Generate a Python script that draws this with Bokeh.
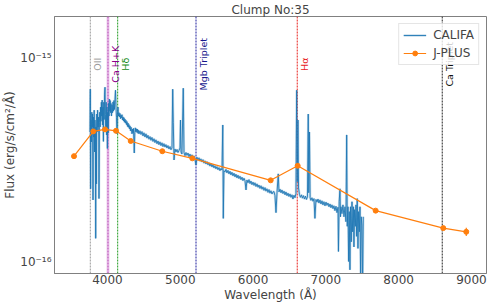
import math
from bokeh.plotting import figure
from bokeh.models import (ColumnDataSource, Range1d, FixedTicker, CustomJSTickFormatter,
                          Legend, LegendItem)
from bokeh.core.properties import value
from bokeh.embed import file_html
from bokeh.resources import INLINE

FONT = "DejaVu Sans"
SCALE = 1e-16  # flux values below are in units of 1e-16 erg/s/cm2/A

# ---- CALIFA spectrum (wavelength [A], flux [1e-16]) ----
califa = [
    (3760, 4.34), (3764, 7.05), (3768, 2.28), (3773, 4.97), (3779, 3.88), (3784, 5.43), (3790, 4.59),
    (3795, 5.32), (3801, 2.01), (3806, 5.14), (3812, 4.10), (3817, 5.56), (3823, 3.46), (3828, 4.97),
    (3834, 4.44), (3838, 1.30), (3842, 4.59), (3847, 2.41), (3853, 5.32), (3858, 4.34), (3864, 5.56),
    (3870, 4.59), (3875, 5.14), (3881, 4.10), (3883, 2.04), (3889, 4.85), (3894, 5.43),
    (3900, 4.60), (3905, 5.75), (3911, 4.90), (3916, 6.08), (3922, 5.20), (3927, 6.23), (3933, 4.70),
    (3938, 5.75), (3944, 3.90), (3949, 6.08), (3955, 5.00), (3960, 6.67), (3966, 7.21), (3971, 5.30),
    (3977, 4.50), (3982, 6.08), (3988, 4.20), (3993, 5.75), (3999, 3.60), (4004, 5.43), (4010, 4.30),
    (4015, 6.00), (4021, 5.20), (4026, 6.30), (4032, 5.50), (4037, 6.20), (4043, 5.40), (4048, 6.00),
    (4055, 5.20), (4062, 5.90), (4069, 5.40), (4076, 6.10), (4082, 5.50), (4089, 6.20), (4096, 5.60),
    (4103, 6.30), (4110, 6.97), (4117, 5.75), (4124, 5.10), (4131, 4.25), (4137, 5.32), (4144, 5.75),
    (4151, 5.20), (4158, 5.40), (4165, 5.15), (4172, 5.35), (4179, 5.05), (4185, 5.25), (4192, 5.10),
    (4199, 5.28), (4206, 4.98), (4213, 5.15), (4220, 4.92), (4227, 5.10), (4233, 4.85), (4240, 5.02),
    (4247, 4.80), (4254, 4.95), (4261, 4.72), (4268, 4.88), (4275, 4.62), (4282, 4.80), (4288, 4.58),
    (4295, 4.72), (4302, 4.50), (4309, 4.65), (4316, 4.40), (4323, 4.58), (4330, 4.45), (4337, 4.25),
    (4343, 4.48), (4350, 4.30), (4357, 4.52), (4368, 3.42), (4375, 4.30), (4382, 4.55), (4389, 4.35),
    (4396, 4.50), (4405, 4.32), (4412, 4.48), (4419, 4.28), (4426, 4.42), (4433, 4.25),
    (4446, 4.40), (4460, 4.22), (4474, 4.36), (4488, 4.15), (4501, 4.30), (4515, 4.10), (4529, 4.25),
    (4542, 4.05), (4556, 4.18), (4570, 4.00), (4584, 4.12), (4597, 3.95), (4611, 4.08), (4625, 3.90),
    (4639, 4.02), (4652, 3.85), (4666, 3.97), (4680, 3.80), (4694, 3.92), (4707, 3.76), (4721, 3.88),
    (4735, 3.72), (4749, 3.84), (4762, 3.68), (4776, 3.80), (4790, 3.66), (4803, 3.76), (4817, 3.62),
    (4831, 3.72), (4845, 3.58), (4859, 3.68), (4872, 3.55), (4886, 3.62), (4896, 7.05), (4904, 4.85),
    (4914, 3.16),
    (4927, 3.58), (4941, 3.46), (4955, 3.56), (4968, 3.44), (4982, 3.52), (4996, 3.62), (5003, 4.97),
    (5010, 3.46), (5023, 3.38), (5041, 7.13), (5051, 3.44), (5065, 3.32), (5078, 3.44), (5092, 3.33),
    (5106, 3.42), (5120, 3.28), (5133, 3.38), (5147, 3.25), (5161, 3.35), (5174, 3.22), (5188, 3.31),
    (5202, 3.18), (5216, 2.99), (5229, 3.26), (5243, 3.15), (5257, 3.24), (5271, 3.12), (5284, 3.20),
    (5298, 3.09), (5312, 3.17), (5326, 3.05), (5339, 3.13), (5353, 3.02), (5367, 3.10), (5381, 2.99),
    (5394, 3.06), (5408, 2.95), (5422, 3.03), (5436, 2.92), (5449, 3.00), (5463, 2.89), (5477, 2.96),
    (5490, 2.86), (5504, 2.93), (5518, 2.83), (5532, 2.90), (5545, 2.80), (5559, 2.87), (5573, 2.82),
    (5584, 4.70), (5591, 1.63), (5600, 2.80),
    (5614, 2.76), (5628, 2.84), (5641, 2.73), (5655, 2.81), (5669, 2.70), (5683, 2.78), (5696, 2.67),
    (5710, 2.75), (5724, 2.64), (5738, 2.72), (5752, 2.61), (5765, 2.69), (5779, 2.58), (5793, 2.66),
    (5806, 2.56), (5820, 2.63), (5834, 2.53), (5848, 2.60), (5861, 2.50), (5875, 2.57), (5889, 2.50),
    (5903, 2.25), (5916, 2.52), (5930, 2.44), (5944, 2.53), (5958, 2.42), (5971, 2.49), (5985, 2.39),
    (5999, 2.46), (6013, 2.37), (6026, 2.44), (6040, 2.34), (6054, 2.41), (6068, 2.32), (6081, 2.38),
    (6095, 2.29), (6109, 2.36), (6123, 2.27), (6136, 2.33), (6150, 2.24), (6164, 2.31), (6177, 2.22),
    (6191, 2.28), (6205, 2.19), (6219, 2.26), (6232, 2.17), (6246, 2.23), (6260, 2.15), (6274, 2.20),
    (6287, 2.21), (6301, 2.11), (6315, 1.74), (6329, 2.18), (6346, 2.70), (6356, 2.20),
    (6370, 2.27), (6384, 2.18), (6397, 2.25), (6411, 2.16), (6425, 2.22), (6439, 2.13), (6452, 2.20),
    (6466, 2.11), (6480, 2.17), (6493, 2.09), (6507, 2.15), (6521, 2.07), (6535, 2.13), (6548, 2.03),
    (6562, 2.12), (6576, 2.06), (6589, 2.16), (6599, 6.97), (6607, 2.47), (6617, 4.97), (6625, 2.30),
    (6637, 2.14), (6651, 2.07), (6665, 2.13), (6678, 2.05), (6692, 2.11), (6706, 2.03), (6720, 2.10),
    (6733, 2.02), (6747, 2.08), (6758, 5.32), (6765, 2.18), (6775, 4.34), (6784, 2.06),
    (6795, 2.00), (6809, 2.06), (6823, 1.98), (6837, 2.04), (6850, 1.63), (6864, 2.02), (6878, 1.96),
    (6892, 2.03), (6905, 1.94), (6919, 2.01), (6933, 1.92), (6947, 1.99), (6960, 1.90), (6974, 1.97),
    (6988, 1.88), (7002, 1.96), (7015, 1.89), (7029, 1.94), (7043, 1.86), (7057, 1.92), (7070, 1.84),
    (7084, 1.90), (7098, 1.82), (7111, 1.88), (7125, 1.78), (7139, 1.87), (7153, 1.74), (7167, 1.85),
    (7173, 1.12), (7183, 1.97), (7194, 2.28), (7201, 1.66), (7208, 1.86), (7221, 1.72), (7235, 1.90),
    (7249, 1.66), (7263, 1.86), (7276, 1.57), (7286, 4.20), (7294, 1.49), (7304, 1.86), (7313, 1.00),
    (7321, 1.76), (7331, 0.91), (7339, 1.86), (7349, 1.25), (7359, 1.97), (7368, 1.40), (7378, 1.86),
    (7386, 1.18), (7395, 1.80), (7405, 1.49), (7414, 1.90), (7423, 1.33), (7431, 2.04), (7441, 1.16),
    (7450, 1.76), (7460, 1.40), (7469, 1.86), (7478, 0.80), (7486, 1.66), (7496, 1.51), (7505, 0.71),
    (7514, 1.66),
]
califa_wave = [w for w, f in califa]
califa_flux = [f * SCALE for w, f in califa]

# ---- J-PLUS photometry ----
jplus_wave = [3540, 3805, 3966, 4117, 4319, 4753, 5165, 6242, 6613, 7684, 8613, 8929]
jplus_flux = [3.30, 4.37, 4.47, 4.40, 3.92, 3.49, 3.22, 2.51, 2.96, 1.78, 1.46, 1.40]
jplus_err = [0.05, 0.04, 0.04, 0.04, 0.03, 0.03, 0.03, 0.03, 0.04, 0.03, 0.03, 0.065]

# ---- spectral line markers ----
line_names = ["OII", "Ca H+K", "H\u03b4", "Mgb Triplet", "H\u03b1", "Ca Triplet"]
line_waves = [3764, 4007, 4140, 5216, 6607, 8599]
line_colors = ["#9a9a9a", "#b040b0", "#1f9a1f", "#1c1c9c", "#e8201c", "#222222"]
label_colors = ["#9a9a9a", "#8b008b", "#138a13", "#16168c", "#e8201c", "#111111"]

x_lo, x_hi = 3272, 9207
y_lo, y_hi = 10 ** -16.059, 10 ** -14.794

p = figure(width=490, height=304, output_backend="svg", toolbar_location=None,
           y_axis_type="log", x_range=Range1d(x_lo, x_hi), y_range=Range1d(y_lo, y_hi),
           title="Clump No:35")
p.min_border_left = 54
p.min_border_right = 4
p.min_border_top = 0
p.min_border_bottom = 0
p.background_fill_color = "white"
p.border_fill_color = "white"
p.outline_line_color = "#808080"
p.outline_line_width = 1
p.xgrid.visible = False
p.ygrid.visible = False

p.title.align = "center"
p.title.text_font = FONT
p.title.text_font_size = "12px"
p.title.text_font_style = "normal"
p.title.standoff = 0

for ax in (p.xaxis[0], p.yaxis[0]):
    ax.axis_line_color = "#808080"
    ax.major_tick_out = 0
    ax.major_tick_in = 0
    ax.minor_tick_out = 0
    ax.minor_tick_in = 0
    ax.major_label_text_font = FONT
    ax.major_label_text_font_size = "12px"
    ax.axis_label_text_font = FONT
    ax.axis_label_text_font_size = "12px"
    ax.axis_label_text_font_style = "normal"

p.xaxis[0].ticker = FixedTicker(ticks=[4000, 5000, 6000, 7000, 8000, 9000])
p.xaxis[0].axis_label = "Wavelength (\u00c5)"
p.xaxis[0].major_label_standoff = 1
p.xaxis[0].axis_label_standoff = 1
p.yaxis[0].ticker = FixedTicker(ticks=[1e-16, 1e-15], minor_ticks=[])
p.yaxis[0].formatter = CustomJSTickFormatter(code="""
const e = Math.round(Math.log10(tick));
const sup = {'-':'\\u207b','0':'\\u2070','1':'\\u00b9','2':'\\u00b2','3':'\\u00b3','4':'\\u2074',
             '5':'\\u2075','6':'\\u2076','7':'\\u2077','8':'\\u2078','9':'\\u2079'};
return '10' + String(e).split('').map(c => sup[c]).join('');
""")
p.yaxis[0].axis_label = "Flux (erg/s/cm\u00b2/\u00c5)"
p.yaxis[0].major_label_standoff = 3
p.yaxis[0].axis_label_standoff = 0

# vertical line markers
for name, w, c in zip(line_names, line_waves, line_colors):
    if name == "Ca H+K":
        p.segment(x0=[w], y0=[y_lo], x1=[w], y1=[y_hi], line_color="#e2a6e2", line_width=3, line_alpha=0.55)
    p.segment(x0=[w], y0=[y_lo], x1=[w], y1=[y_hi], line_color=c, line_width=1, line_dash="2 1")

label_y = 10 ** -15.029
lab_src = ColumnDataSource(dict(x=line_waves, y=[label_y] * len(line_waves), t=line_names, c=label_colors))
p.text(x="x", y="y", text="t", source=lab_src, angle=math.pi / 2, text_color="c",
       text_align="center", text_baseline="top", x_offset=2,
       text_font=value(FONT), text_font_size="9.5px")

# CALIFA spectrum: light error halo plus line
spec_src = ColumnDataSource(dict(x=califa_wave, y=califa_flux))
halo = p.line("x", "y", source=spec_src, line_color="#1f77b4", line_width=2.4, line_alpha=0.25)
spec_r = p.line("x", "y", source=spec_src, line_color="#1f77b4", line_width=0.9)

# J-PLUS photometry with error bars
jf = [f * SCALE for f in jplus_flux]
jlo = [(f - e) * SCALE for f, e in zip(jplus_flux, jplus_err)]
jhi = [(f + e) * SCALE for f, e in zip(jplus_flux, jplus_err)]
j_src = ColumnDataSource(dict(x=jplus_wave, y=jf, lo=jlo, hi=jhi))
jl = p.line("x", "y", source=j_src, line_color="#ff7f0e", line_width=1.2)
je = p.segment(x0="x", y0="lo", x1="x", y1="hi", source=j_src, line_color="#ff7f0e", line_width=1.2)
jm = p.scatter("x", "y", source=j_src, marker="circle", size=5, fill_color="#ff7f0e", line_color="#ff7f0e")
jbar = p.scatter(x=[], y=[], marker="dash", angle=math.pi / 2, size=10, line_color="#ff7f0e", line_width=1.2)

legend = Legend(items=[LegendItem(label="CALIFA", renderers=[halo, spec_r]),
                       LegendItem(label="J-PLUS", renderers=[jl, jbar, jm])],
                location="top_right")
legend.label_text_font = FONT
legend.label_text_font_size = "12px"
legend.glyph_width = 23
legend.glyph_height = 12
legend.label_standoff = 7
legend.label_height = 12
legend.spacing = 4
legend.padding = 4
legend.margin = 7
legend.border_line_color = "#cccccc"
legend.background_fill_alpha = 0.8
p.add_layout(legend, "center")

open("out.html", "w", encoding="utf-8").write(file_html(p, INLINE))
